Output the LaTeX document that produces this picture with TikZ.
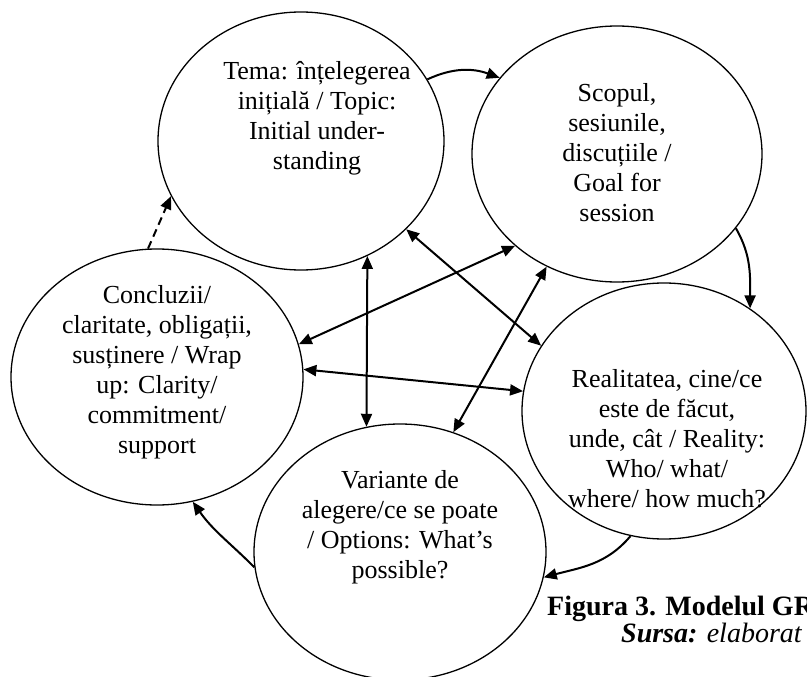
\documentclass[tikz,border=0pt]{standalone}
\usepackage{fontspec}
\setmainfont{Liberation Serif}
\usetikzlibrary{shapes.geometric,arrows.meta}
\begin{document}
\begin{tikzpicture}[x=1pt,y=1pt,
  ell/.style={draw,ellipse,line width=1.3pt,minimum width=290pt,minimum height=256pt,inner sep=0pt},
  txt/.style={align=center,inner sep=0pt,font=\fontsize{26}{30}\selectfont},
  tip/.tip={Triangle[length=13pt,width=11pt]},
  conn/.style={line width=2pt,-tip},
  biconn/.style={line width=2pt,tip-tip},
]
\useasboundingbox (0,0) rectangle (807,-677);
\clip (0,0) rectangle (807,-677);
% ellipses
\node[ell,minimum width=286pt,minimum height=258pt] (T) at (301,-141) {};
\node[ell] (S) at (617,-154) {};
\node[ell,minimum width=292pt] (C) at (157,-377) {};
\node[ell,minimum width=284pt] (R) at (664,-411) {};
\node[ell,minimum width=292pt] (V) at (400,-552) {};
% texts
\node[txt] (tT) at (317,-118) {Tema: înțelegerea\\inițială / Topic:\\Initial under-\\standing};
\node[txt] (tS) at (617,-153) {Scopul,\\sesiunile,\\discuțiile /\\Goal for\\session};
\node[txt] (tC) at (157,-372) {Concluzii/\\claritate, obligații,\\susținere / Wrap\\up: Clarity/\\commitment/\\support};
\node[txt] (tR) at (667,-439) {Realitatea, cine/ce\\este de făcut,\\unde, cât / Reality:\\Who/ what/\\where/ how much?};
\node[txt] (tV) at (400,-527) {Variante de\\alegere/ce se poate\\/ Options: What’s\\possible?};
% cycle arrows
\draw[conn] (T.26) to[out=25,in=160] (S.147);
\draw[conn] (S.-32.3) to[out=-60,in=90] (R.50.5);
\draw[conn] (R.255.4) to[out=-130,in=15] (V.-10);
\draw[conn] (V.186.3) to[out=135,in=-55] (C.-74.1);
\draw[conn,dash pattern=on 8pt off 5pt] (C.94) -- (T.203.8);
% cross arrows
\draw[biconn] (T.-40.7) -- (R.152.1);
\draw[biconn] (T.-60.5) -- (V.105.3);
\draw[biconn] (C.13.5) -- (S.222.1);
\draw[biconn] (C.3.1) -- (R.172.8);
\draw[biconn] (V.66.9) -- (S.238.6);
% caption
\node[anchor=base west,inner sep=0pt,font=\fontsize{28}{30}\selectfont\bfseries] (cap) at (547,-615) {Figura 3. Modelul GROW};
\node[anchor=base west,inner sep=0pt,font=\fontsize{28}{30}\selectfont\itshape] (src) at (621,-642) {\textbf{Sursa:} elaborat de autor};
\end{tikzpicture}
\end{document}
